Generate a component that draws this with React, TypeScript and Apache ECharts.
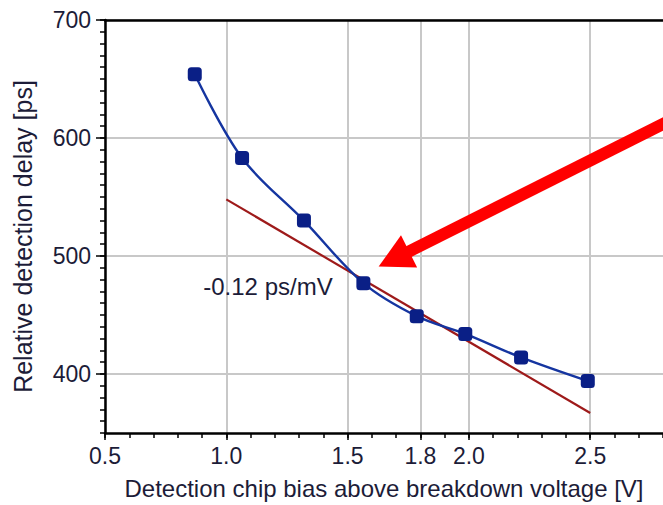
import React, { useEffect, useRef } from "react";
import * as echarts from "echarts";

const biasV = [0.87, 1.065, 1.32, 1.565, 1.785, 1.985, 2.215, 2.49];
const delayPs = [654, 583, 530, 477, 449, 434, 414, 394];
// Linear fit (-0.12 ps/mV)
const fitBiasV = [1.0, 2.5];
const fitDelayPs = [548, 367];
// Axis ticks
const xMajorTicks = [0.5, 1.0, 1.5, 1.8, 2.0, 2.5];
const yMajorTicks = [400, 500, 600, 700];
const xRange = [0.5, 2.8];
const yRange = [350, 700];
// Annotations (data coordinates)
const slopeLabel = "-0.12 ps/mV";
const slopeLabelAt = [0.905, 474];
const arrowTip = [1.628, 491];
const arrowTail = [2.86, 618];

const FONT = "Liberation Sans, Arial, sans-serif";
const TEXT = "#1c1c38";

export default function App() {
  const ref = useRef<HTMLDivElement>(null);
  useEffect(() => {
    if (!ref.current) return;
    const chart = echarts.init(ref.current, undefined, { renderer: "svg" });
    const grid = { left: 105, top: 20, width: 560, height: 418 };
    const axisCommon = {
      type: "value" as const,
      min: xRange[0],
      max: xRange[1],
    };
    const option: any = {
      animation: false,
      backgroundColor: "#ffffff",
      grid,
      xAxis: [
        {
          ...axisCommon,
          interval: 0.1,
          position: "bottom",
          axisLine: { show: true, lineStyle: { color: "#000", width: 2.5 } },
          axisTick: { show: true, length: 5, lineStyle: { color: "#000", width: 1.5 } },
          axisLabel: { show: false },
          splitLine: { show: false },
        },
        {
          ...axisCommon,
          position: "bottom",
          axisLine: { show: false },
          axisTick: { show: true, length: 7, customValues: xMajorTicks, lineStyle: { color: "#000", width: 1.5 } },
          axisLabel: {
            show: true,
            customValues: xMajorTicks,
            formatter: (v: number) => v.toFixed(1),
            fontFamily: FONT,
            fontSize: 23,
            color: TEXT,
            margin: 11,
          },
          splitLine: { show: true, lineStyle: { color: "#c8c8c8", width: 2 } },
          name: "Detection chip bias above breakdown voltage [V]",
          nameLocation: "middle",
          nameGap: 43,
          nameTextStyle: { fontFamily: FONT, fontSize: 24, color: TEXT },
        },
        {
          ...axisCommon,
          position: "top",
          axisLine: { show: true, lineStyle: { color: "#000", width: 2.5 } },
          axisTick: { show: false },
          axisLabel: { show: false },
          splitLine: { show: false },
        },
      ],
      yAxis: [
        {
          type: "value",
          min: yRange[0],
          max: yRange[1],
          interval: 10,
          axisLine: { show: true, lineStyle: { color: "#000", width: 2.5 } },
          axisTick: { show: true, length: 5, lineStyle: { color: "#000", width: 1.5 } },
          axisLabel: { show: false },
          splitLine: { show: false },
        },
        {
          type: "value",
          min: yRange[0],
          max: yRange[1],
          position: "left",
          axisLine: { show: false },
          axisTick: { show: true, length: 9, customValues: yMajorTicks, lineStyle: { color: "#000", width: 1.5 } },
          axisLabel: {
            show: true,
            customValues: yMajorTicks,
            fontFamily: FONT,
            fontSize: 23,
            color: TEXT,
            margin: 14,
          },
          splitLine: { show: true, lineStyle: { color: "#c8c8c8", width: 2 } },
          name: "Relative detection delay [ps]",
          nameLocation: "middle",
          nameRotate: 90,
          nameGap: 70,
          nameTextStyle: { fontFamily: FONT, fontSize: 25, color: TEXT, padding: [0, 20, 0, 0] },
        },
      ],
      series: [
        {
          type: "line",
          xAxisIndex: 0,
          yAxisIndex: 0,
          data: fitBiasV.map((x, i) => [x, fitDelayPs[i]]),
          symbol: "none",
          lineStyle: { color: "#9e1a1a", width: 2.2 },
          z: 3,
        },
        {
          type: "line",
          xAxisIndex: 0,
          yAxisIndex: 0,
          data: biasV.map((x, i) => [x, delayPs[i]]),
          smooth: 0.35,
          symbol: "roundRect",
          symbolSize: 14,
          itemStyle: { color: "#0a1f86" },
          lineStyle: { color: "#1535a0", width: 2.4 },
          z: 4,
        },
      ],
    };
    chart.setOption(option);

    const px = (p: number[]) =>
      chart.convertToPixel({ xAxisIndex: 0, yAxisIndex: 0 }, p) as number[];
    const tip = px(arrowTip);
    const tail = px(arrowTail);
    const lab = px(slopeLabelAt);
    const dx = tail[0] - tip[0];
    const dy = tail[1] - tip[1];
    const len = Math.hypot(dx, dy);
    const ux = dx / len;
    const uy = dy / len;
    const nx = -uy;
    const ny = ux;
    const headLen = 34;
    const headHalf = 18;
    const base = [tip[0] + ux * headLen, tip[1] + uy * headLen];
    chart.setOption({
      graphic: [
        {
          type: "text",
          x: lab[0],
          y: lab[1],
          style: {
            text: slopeLabel,
            fontFamily: FONT,
            fontSize: 24,
            fill: TEXT,
            textAlign: "left",
            textVerticalAlign: "middle",
          },
          z: 10,
        },
        {
          type: "line",
          shape: { x1: base[0] - ux * 2, y1: base[1] - uy * 2, x2: tail[0], y2: tail[1] },
          style: { stroke: "#ff0000", lineWidth: 12, lineCap: "butt" },
          z: 10,
        },
        {
          type: "polygon",
          shape: {
            points: [
              tip,
              [base[0] + nx * headHalf, base[1] + ny * headHalf],
              [base[0] - nx * headHalf, base[1] - ny * headHalf],
            ],
          },
          style: { fill: "#ff0000" },
          z: 10,
        },
      ],
    });
    return () => chart.dispose();
  }, []);
  return (
    <div
      ref={ref}
      style={{ position: "fixed", left: 0, top: 0, width: 663, height: 505, background: "#fff" }}
    />
  );
}
